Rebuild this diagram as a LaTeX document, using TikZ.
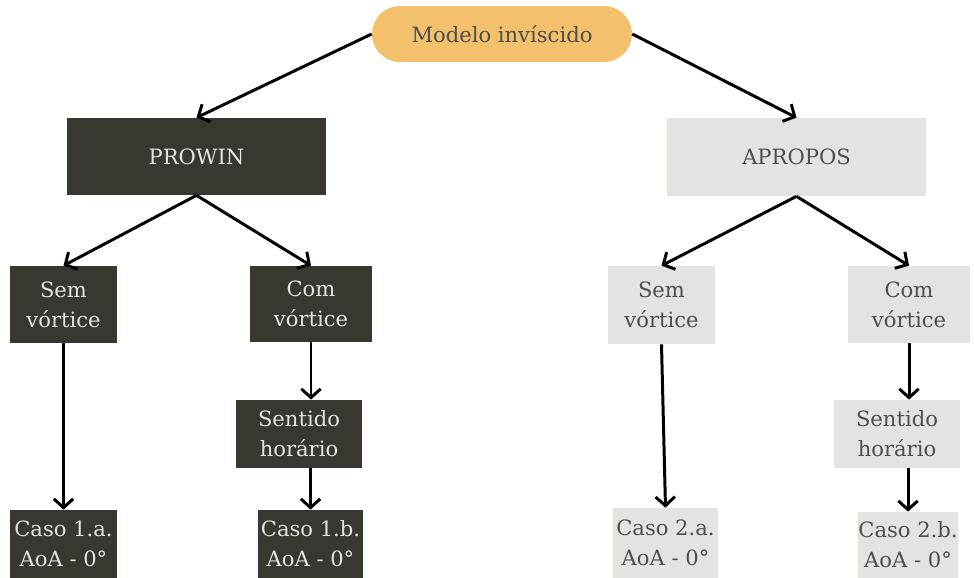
\documentclass[tikz,border=0pt]{standalone}
\usepackage{fontspec}
\setmainfont{DejaVu Serif}
\usetikzlibrary{arrows.meta}
\definecolor{pillfill}{HTML}{F3C06B}
\definecolor{darkfill}{HTML}{3A3630}
\definecolor{lightfill}{HTML}{E3E3E0}
\definecolor{darktext}{HTML}{4E4E4C}
\definecolor{lighttext}{HTML}{E4E4E2}
\begin{document}
\begin{tikzpicture}[x=0.02cm, y=-0.02cm]
        \tikzset{
            box/.style={rectangle, inner sep=0pt, align=center, font=\fontsize{12}{17}\selectfont},
            darkbox/.style={box, fill=darkfill, text=lighttext},
            lightbox/.style={box, fill=lightfill, text=darktext},
            pill/.style={box, fill=pillfill, text=darktext, rounded corners=0.56cm, minimum width=5.2cm, minimum height=1.12cm},
            edge/.style={-{Straight Barb[length=5pt, width=11pt, line width=1.7pt]}, line width=1.7pt}
        }
        \useasboundingbox (0,0) rectangle (974,578);

        % Nodes
        \node[pill] (modelo) at (502,34) {Modelo invíscido};
        \node[darkbox, minimum width=5.18cm, minimum height=1.54cm] (prowin) at (196.5,156.5) {PROWIN};
        \node[lightbox, minimum width=5.18cm, minimum height=1.56cm] (apropos) at (796.5,157) {APROPOS};
        \node[darkbox, minimum width=2.14cm, minimum height=1.54cm] (semL) at (63.5,304.5) {Sem\\vórtice};
        \node[darkbox, minimum width=2.44cm, minimum height=1.52cm] (comL) at (311,304) {Com\\vórtice};
        \node[darkbox, minimum width=2.52cm, minimum height=1.36cm] (sentL) at (299,434) {Sentido\\horário};
        \node[darkbox, minimum width=2.14cm, minimum height=1.36cm] (casoA) at (63.5,544) {Caso 1.a.\\AoA - 0°};
        \node[darkbox, minimum width=2.1cm, minimum height=1.36cm] (casoB) at (310.5,544) {Caso 1.b.\\AoA - 0°};
        \node[lightbox, minimum width=2.14cm, minimum height=1.56cm] (semR) at (661.5,305) {Sem\\vórtice};
        \node[lightbox, minimum width=2.44cm, minimum height=1.54cm] (comR) at (909,304.5) {Com\\vórtice};
        \node[lightbox, minimum width=2.52cm, minimum height=1.36cm] (sentR) at (897,434) {Sentido\\horário};
        \node[lightbox, minimum width=2.1cm, minimum height=1.4cm] (casoC) at (665.5,543) {Caso 2.a.\\AoA - 0°};
        \node[lightbox, minimum width=2cm, minimum height=1.32cm] (casoD) at (908,545) {Caso 2.b.\\AoA - 0°};

        % Edges
        \draw[edge] (modelo.west) -- (prowin.north);
        \draw[edge] (modelo.east) -- (apropos.north);
        \draw[edge] (prowin.south) -- (semL.north);
        \draw[edge] (prowin.south) -- (comL.north);
        \draw[edge] (apropos.south) -- (semR.north);
        \draw[edge] (apropos.south) -- (comR.north);
        \draw[edge] (semL.south) -- (casoA.north);
        \draw[edge] (comL.south) -- (comL.south |- sentL.north);
        \draw[edge] (sentL.south -| casoB) -- (casoB.north);
        \draw[edge] (semR.south) -- (casoC.north);
        \draw[edge] (comR.south) -- (comR.south |- sentR.north);
        \draw[edge] (sentR.south -| casoD) -- (casoD.north);
    \end{tikzpicture}
\end{document}
